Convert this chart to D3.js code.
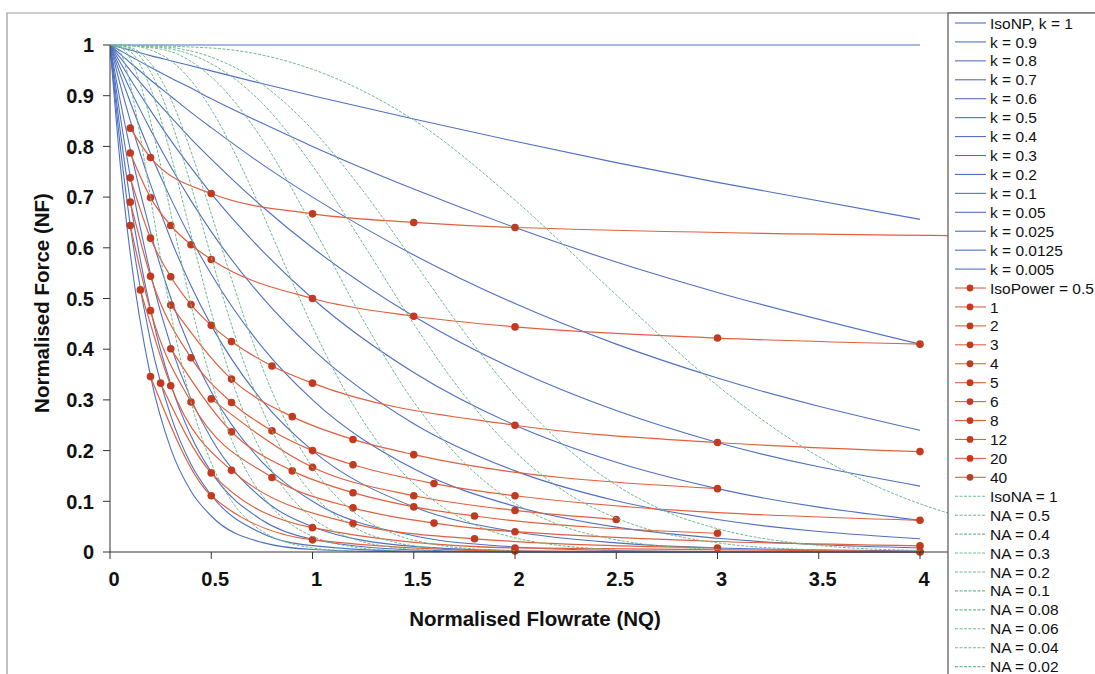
<!DOCTYPE html>
<html>
<head>
<meta charset="utf-8">
<script src="https://cdn.jsdelivr.net/npm/d3@7/dist/d3.min.js"></script>
<style>
  body { margin: 0; background: #fff; }
  svg { display: block; font-family: "Liberation Sans", Arial, sans-serif; }
</style>
</head>
<body>
<svg id="chart" width="1095" height="674"></svg>
<script>
// ---- data ----
const xTicks = [0, 0.5, 1, 1.5, 2, 2.5, 3, 3.5, 4];
const yTicks = [0, 0.1, 0.2, 0.3, 0.4, 0.5, 0.6, 0.7, 0.8, 0.9, 1];

// IsoNP curves (blue), all sampled on the same NQ grid
const kLabels = ["IsoNP, k = 1", "k = 0.9", "k = 0.8", "k = 0.7", "k = 0.6", "k = 0.5", "k = 0.4",
  "k = 0.3", "k = 0.2", "k = 0.1", "k = 0.05", "k = 0.025", "k = 0.0125", "k = 0.005"];
const kNQ = [0, 0.05, 0.1, 0.2, 0.3, 0.4, 0.5, 0.75, 1, 1.5, 2, 2.5, 3, 4];
const kNF = [
  [1, 1, 1, 1, 1, 1, 1, 1, 1, 1, 1, 1, 1, 1],
  [1, 0.995, 0.990, 0.979, 0.969, 0.959, 0.949, 0.924, 0.9, 0.854, 0.81, 0.768, 0.729, 0.656],
  [1, 0.989, 0.978, 0.956, 0.935, 0.915, 0.894, 0.846, 0.8, 0.716, 0.64, 0.572, 0.512, 0.41],
  [1, 0.982, 0.965, 0.931, 0.899, 0.867, 0.837, 0.765, 0.7, 0.586, 0.49, 0.41, 0.343, 0.24],
  [1, 0.975, 0.95, 0.903, 0.858, 0.815, 0.775, 0.682, 0.6, 0.465, 0.36, 0.279, 0.216, 0.13],
  [1, 0.966, 0.933, 0.871, 0.812, 0.758, 0.707, 0.595, 0.5, 0.354, 0.25, 0.177, 0.125, 0.0625],
  [1, 0.955, 0.912, 0.833, 0.76, 0.693, 0.632, 0.503, 0.4, 0.253, 0.16, 0.101, 0.064, 0.026],
  [1, 0.942, 0.887, 0.786, 0.697, 0.618, 0.548, 0.405, 0.3, 0.164, 0.09, 0.049, 0.027, 0.008],
  [1, 0.923, 0.851, 0.725, 0.617, 0.525, 0.447, 0.299, 0.2, 0.089, 0.04, 0.018, 0.008, 0.002],
  [1, 0.891, 0.794, 0.631, 0.501, 0.398, 0.316, 0.178, 0.1, 0.032, 0.01, 0.003, 0.001, 0],
  [1, 0.861, 0.741, 0.549, 0.407, 0.302, 0.224, 0.106, 0.05, 0.011, 0.0025, 0.0006, 0.0001, 0],
  [1, 0.832, 0.692, 0.478, 0.331, 0.229, 0.158, 0.063, 0.025, 0.004, 0.0006, 0.0001, 0, 0],
  [1, 0.803, 0.645, 0.416, 0.269, 0.173, 0.112, 0.037, 0.0125, 0.0014, 0.0002, 0, 0, 0],
  [1, 0.767, 0.589, 0.347, 0.204, 0.12, 0.071, 0.019, 0.005, 0.0004, 0, 0, 0, 0]
];

// IsoPower curves (red with markers)
const powerLabels = ["IsoPower = 0.5", "1", "2", "3", "4", "5", "6", "8", "12", "20", "40"];
const powerNQ = [
  [0.1, 0.2, 0.5, 1, 1.5, 2, 5],
  [0.1, 0.2, 0.3, 0.4, 0.5, 1, 1.5, 2, 3, 4],
  [0.1, 0.2, 0.3, 0.4, 0.5, 0.6, 0.8, 1, 2, 3, 4],
  [0.3, 0.6, 0.9, 1.2, 1.5, 3],
  [0.1, 0.2, 0.4, 0.6, 0.8, 1, 1.2, 1.6, 2, 4],
  [0.5, 1, 1.5, 2, 2.5],
  [0.3, 0.6, 0.9, 1.2, 1.5, 1.8, 3],
  [0.1, 0.2, 0.4, 0.8, 1.2, 1.6, 2, 4],
  [0.15, 0.3, 0.6, 1.2, 1.8, 3],
  [0.25, 0.5, 1, 2, 4],
  [0.2, 0.5, 1, 2, 4]
];
const powerNF = [
  [0.836, 0.778, 0.707, 0.667, 0.65, 0.64, 0.621],
  [0.787, 0.699, 0.644, 0.606, 0.577, 0.5, 0.465, 0.444, 0.422, 0.41],
  [0.738, 0.619, 0.543, 0.488, 0.447, 0.415, 0.367, 0.333, 0.25, 0.216, 0.198],
  [0.487, 0.341, 0.267, 0.222, 0.192, 0.125],
  [0.69, 0.544, 0.383, 0.295, 0.239, 0.2, 0.172, 0.135, 0.111, 0.0625],
  [0.302, 0.167, 0.111, 0.082, 0.064],
  [0.401, 0.237, 0.16, 0.117, 0.089, 0.071, 0.037],
  [0.644, 0.476, 0.296, 0.147, 0.087, 0.057, 0.04, 0.012],
  [0.517, 0.328, 0.161, 0.056, 0.026, 0.008],
  [0.333, 0.156, 0.048, 0.008, 0.001],
  [0.346, 0.111, 0.024, 0.002, 0]
];

// IsoNA curves (green, dashed)
const naLabels = ["IsoNA = 1", "NA = 0.5", "NA = 0.4", "NA = 0.3", "NA = 0.2", "NA = 0.1",
  "NA = 0.08", "NA = 0.06", "NA = 0.04", "NA = 0.02"];
const naNQ = [
  [0, 0.5, 1, 1.5, 2, 2.5, 3, 3.5, 4, 4.5],
  [0, 0.25, 0.5, 0.75, 1, 1.25, 1.5, 1.75, 2, 2.25, 2.5, 2.75, 3, 3.5, 4],
  [0, 0.25, 0.5, 0.75, 1, 1.25, 1.5, 1.75, 2, 2.25, 2.5, 3, 3.5],
  [0, 0.25, 0.5, 0.75, 1, 1.25, 1.5, 1.75, 2, 2.25, 2.5, 3],
  [0, 0.1, 0.2, 0.3, 0.4, 0.5, 0.6, 0.7, 0.8, 0.9, 1, 1.2, 1.4, 1.6, 1.8, 2, 2.5],
  [0, 0.1, 0.2, 0.3, 0.4, 0.5, 0.6, 0.7, 0.8, 0.9, 1, 1.2, 1.4, 1.6, 1.8, 2],
  [0, 0.1, 0.2, 0.3, 0.4, 0.5, 0.6, 0.7, 0.8, 0.9, 1, 1.2, 1.4, 1.6],
  [0, 0.1, 0.2, 0.3, 0.4, 0.5, 0.6, 0.7, 0.8, 0.9, 1, 1.2, 1.4, 1.6],
  [0, 0.05, 0.1, 0.15, 0.2, 0.25, 0.3, 0.4, 0.5, 0.6, 0.7, 0.8, 0.9, 1, 1.2, 1.4],
  [0, 0.05, 0.1, 0.15, 0.2, 0.25, 0.3, 0.4, 0.5, 0.6, 0.7, 0.8, 0.9, 1, 1.2]
];
const naNF = [
  [1, 0.994, 0.952, 0.852, 0.694, 0.507, 0.328, 0.188, 0.095, 0.043],
  [1, 0.997, 0.976, 0.923, 0.833, 0.712, 0.573, 0.433, 0.309, 0.207, 0.132, 0.079, 0.046, 0.013, 0.003],
  [1, 0.995, 0.963, 0.886, 0.762, 0.608, 0.45, 0.309, 0.198, 0.118, 0.067, 0.018, 0.004],
  [1, 0.992, 0.937, 0.815, 0.643, 0.458, 0.296, 0.176, 0.096, 0.049, 0.024, 0.005],
  [1, 0.999, 0.99, 0.969, 0.93, 0.873, 0.8, 0.716, 0.625, 0.533, 0.444, 0.291, 0.177, 0.101, 0.054, 0.028, 0.004],
  [1, 0.995, 0.964, 0.894, 0.79, 0.667, 0.539, 0.42, 0.317, 0.233, 0.167, 0.08, 0.036, 0.015, 0.006, 0.002],
  [1, 0.993, 0.947, 0.852, 0.723, 0.582, 0.448, 0.332, 0.239, 0.167, 0.114, 0.05, 0.02, 0.008],
  [1, 0.987, 0.915, 0.784, 0.626, 0.473, 0.341, 0.237, 0.16, 0.105, 0.067, 0.026, 0.009, 0.003],
  [1, 0.996, 0.973, 0.923, 0.85, 0.763, 0.669, 0.488, 0.337, 0.222, 0.142, 0.088, 0.053, 0.031, 0.01, 0.003],
  [1, 0.986, 0.922, 0.818, 0.699, 0.58, 0.472, 0.296, 0.176, 0.101, 0.056, 0.03, 0.016, 0.008, 0.002]
];

// ---- drawing ----
const blue = "#4f70c2", red = "#e0603e", dotRed = "#c23a20", green = "#72b98e";
const plotLeft = 110, plotRight = 948, plotTop = 45, plotBottom = 552;

const svg = d3.select("#chart");
svg.append("rect").attr("width", 1095).attr("height", 674).attr("fill", "#fff");

const x = d3.scaleLinear().domain([0, 4.5]).range([plotLeft, plotLeft + 4.5 * 202.5]);
const y = d3.scaleLinear().domain([0, 1]).range([plotBottom, plotTop]);

svg.append("defs").append("clipPath").attr("id", "plotClip")
  .append("rect").attr("x", plotLeft).attr("y", 20)
  .attr("width", plotRight - plotLeft).attr("height", plotBottom - 20 + 8);

const line = d3.line().x(d => x(d[0])).y(d => y(d[1])).curve(d3.curveMonotoneX);
const zip = (a, b) => a.map((v, i) => [v, b[i]]);

const plot = svg.append("g").attr("clip-path", "url(#plotClip)");

// blue IsoNP
plot.append("g").selectAll("path").data(kNF).enter().append("path")
  .attr("d", nf => line(zip(kNQ, nf)))
  .attr("fill", "none").attr("stroke", blue).attr("stroke-width", 1.1);

// red IsoPower
const pg = plot.append("g");
powerNF.forEach((nf, i) => {
  const pts = zip(powerNQ[i], nf);
  pg.append("path").attr("d", line(pts))
    .attr("fill", "none").attr("stroke", red).attr("stroke-width", 1.2);
  pg.selectAll(null).data(pts).enter().append("circle")
    .attr("cx", d => x(d[0])).attr("cy", d => y(d[1])).attr("r", 3.8)
    .attr("fill", dotRed);
});

// green IsoNA
plot.append("g").selectAll("path").data(naNF).enter().append("path")
  .attr("d", (nf, i) => line(zip(naNQ[i], nf)))
  .attr("fill", "none").attr("stroke", green).attr("stroke-width", 1)
  .attr("stroke-dasharray", "3,1.5");

// axes
const axisColor = "#333";
svg.append("line").attr("x1", plotLeft).attr("x2", plotLeft)
  .attr("y1", plotTop).attr("y2", plotBottom).attr("stroke", axisColor);
svg.append("line").attr("x1", plotLeft).attr("x2", plotRight)
  .attr("y1", plotBottom).attr("y2", plotBottom).attr("stroke", axisColor);

const yAxis = svg.append("g");
yAxis.selectAll("line").data(yTicks).enter().append("line")
  .attr("x1", plotLeft - 7).attr("x2", plotLeft)
  .attr("y1", d => y(d)).attr("y2", d => y(d)).attr("stroke", axisColor);
yAxis.selectAll("text").data(yTicks).enter().append("text")
  .attr("x", 94).attr("y", d => y(d)).attr("dy", "0.36em")
  .attr("text-anchor", "end").attr("font-size", 20).attr("font-weight", "bold")
  .attr("fill", "#111").text(d => d3.format("")(d));

const xAxis = svg.append("g");
xAxis.selectAll("line").data(xTicks).enter().append("line")
  .attr("x1", d => x(d)).attr("x2", d => x(d))
  .attr("y1", plotBottom).attr("y2", plotBottom + 7).attr("stroke", axisColor);
xAxis.selectAll("text").data(xTicks).enter().append("text")
  .attr("x", d => x(d) + 4).attr("y", 586)
  .attr("text-anchor", "middle").attr("font-size", 20).attr("font-weight", "bold")
  .attr("fill", "#111").text(d => d3.format("")(d));

svg.append("text").attr("x", 535).attr("y", 626).attr("text-anchor", "middle")
  .attr("font-size", 20.5).attr("font-weight", "bold").attr("fill", "#111")
  .text("Normalised Flowrate (NQ)");
svg.append("text").attr("transform", "translate(49,303) rotate(-90)")
  .attr("text-anchor", "middle").attr("font-size", 20.5).attr("font-weight", "bold")
  .attr("fill", "#111").text("Normalised Force (NF)");

// outer frame
svg.append("path").attr("d", "M7,674 L7,13 L1095,13")
  .attr("fill", "none").attr("stroke", "#999").attr("stroke-width", 1.2);

// legend
const legend = svg.append("g");
legend.append("rect").attr("x", plotRight).attr("y", 13)
  .attr("width", 200).attr("height", 700)
  .attr("fill", "#fff").attr("stroke", "#555").attr("stroke-width", 1.2);

const entries = [
  ...kLabels.map(t => ({ t, c: blue, dot: false, dash: null })),
  ...powerLabels.map(t => ({ t, c: red, dot: true, dash: null })),
  ...naLabels.map(t => ({ t, c: green, dot: false, dash: "3,1.5" }))
];
const item = legend.selectAll("g.item").data(entries).enter().append("g")
  .attr("class", "item")
  .attr("transform", (d, i) => `translate(0,${23 + i * 18.93})`);
item.append("line").attr("x1", 955).attr("x2", 986)
  .attr("stroke", d => d.c).attr("stroke-width", 1.1)
  .attr("stroke-dasharray", d => d.dash);
item.filter(d => d.dot).append("circle").attr("cx", 970).attr("r", 3.4).attr("fill", dotRed);
item.append("text").attr("x", 990).attr("dy", "0.36em")
  .attr("font-size", 15.5).attr("fill", "#111").text(d => d.t);
</script>
</body>
</html>
